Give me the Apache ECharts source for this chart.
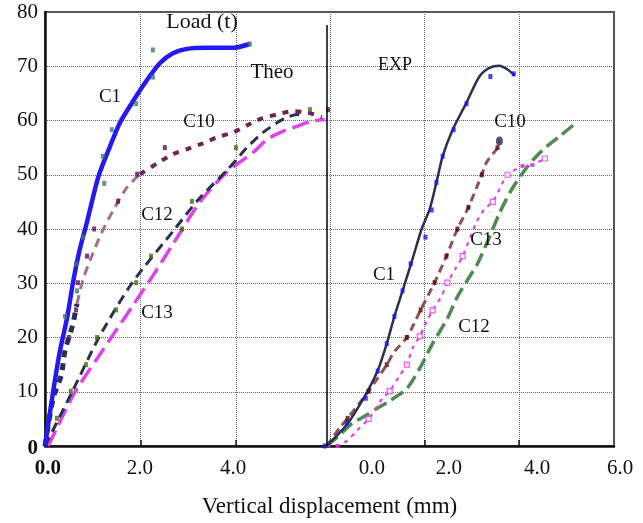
<!DOCTYPE html>
<html><head><meta charset="utf-8">
<script src="https://cdn.jsdelivr.net/npm/echarts@6/dist/echarts.min.js"></script>
<style>html,body{margin:0;padding:0;background:#fff}#c{width:643px;height:523px}</style>
</head><body><div id="c"></div>
<script>
// ---- layout constants (axis units) ----
const OFFSET = 5.9;      // right (EXP) panel origin on the shared displacement axis
const X_MAX = 11.92;

// ---- tick labels ----
const yTickValues = [0, 10, 20, 30, 40, 50, 60, 70, 80];
const xLabelsLeft = ['0.0', '2.0', '4.0'];
const xLabelLeftAt = [0.06, 1.99, 3.94];
const xLabelsRight = ['0.0', '2.0', '4.0', '6.0'];
const xLabelRightAt = [0.95, 2.56, 4.41, 6.15];
const gridLeftAt = [2, 4];
const gridRightAt = [0.07, 2.05, 4.03];

// ---- Theo (left panel) ----
const theoC1_x = [0, 0.17, 0.31, 0.46, 0.59, 0.73, 0.88, 1.12, 1.36, 1.57, 1.84, 2.14, 2.41, 2.68, 2.97, 3.39, 3.94, 4.29];
const theoC1_y = [0, 10, 17.4, 23.5, 30.3, 36.3, 41.3, 49.7, 55.2, 59.6, 63.5, 67.5, 70.6, 72.4, 73.2, 73.4, 73.4, 74.1];
const theoC1m_x = [0.42, 0.67, 0.65, 0.80, 1.24, 1.21, 1.40, 1.91, 2.26, 2.26, 4.29];
const theoC1m_y = [23.9, 28.6, 33.6, 38.5, 48.4, 53.4, 58.3, 63.1, 68, 73, 74.1];

const theoC10a_x = [0, 0.17, 0.34, 0.42, 0.57, 0.67];
const theoC10a_y = [0, 8.8, 13, 17.6, 22, 26.2];
const theoC10b_x = [0.67, 0.80, 0.98, 1.19, 1.42, 1.72, 1.99];
const theoC10b_y = [26.2, 30.8, 35, 39.4, 43.3, 47.7, 50.1];
const theoC10c_x = [1.99, 2.35, 2.68, 2.97, 3.31, 3.60, 3.94, 4.23, 4.54, 4.86, 5.17, 5.49, 5.80];
const theoC10c_y = [50.1, 52.1, 53.8, 54.7, 55.8, 56.9, 57.8, 59.1, 60.4, 61.1, 61.7, 61.5, 60.6];
const theoC10m_x = [0.50, 0.65, 0.69, 0.88, 1.03, 1.53, 1.93, 2.51, 5.93];
const theoC10m_y = [20, 25.1, 30.1, 35, 40, 45.1, 50.1, 55, 62];

const theoC12_x = [0, 0.57, 1.13, 1.82, 2.72, 3.22, 3.83, 4.23, 4.57, 4.98, 5.28, 5.45];
const theoC12_y = [0, 10, 20, 30, 40, 45.5, 51, 55, 57.8, 60.2, 61.1, 60.7];
const theoC12m_x = [0.25, 0.54, 0.86, 1.09, 1.49, 1.91, 2.22, 2.87, 3.08, 4.0, 5.55];
const theoC12m_y = [5.1, 10.1, 15, 20, 25.1, 30.1, 35, 40, 45.1, 55, 62];

const theoC13_x = [0.06, 0.25, 0.59, 1.09, 1.42, 1.84, 2.26, 2.68, 3.25, 3.81, 4.36, 4.65, 4.98, 5.28, 5.55, 5.86];
const theoC13_y = [0, 3.3, 9.4, 16.1, 20.4, 25.9, 31.4, 37.2, 45, 50.5, 54.1, 56.5, 58, 58.9, 59.8, 60.2];

// ---- EXP (right panel, local displacement) ----
const expC1_x = [0, 0.42, 0.80, 1.07, 1.26, 1.42, 1.59, 1.78, 1.99, 2.16, 2.30, 2.43, 2.64, 2.93, 3.20, 3.41, 3.62, 3.79, 3.94];
const expC1_y = [0, 3.9, 9.2, 13.9, 18.9, 23.9, 28.6, 33.9, 40, 43.7, 48.6, 53.4, 58.3, 63.3, 68.1, 69.7, 70.1, 69.4, 68.3];
const expC1m_x = [-0.04, 0.42, 0.82, 1.07, 1.26, 1.42, 1.59, 1.76, 2.07, 2.20, 2.30, 2.43, 2.66, 2.93, 3.43, 3.92];
const expC1m_y = [0, 4.2, 8.8, 13.8, 18.9, 23.9, 28.6, 33.6, 38.5, 43.5, 48.6, 53.4, 58.3, 63.1, 68.1, 68.6];

const expC10_x = [0, 0.27, 0.44, 0.88, 1.26, 1.42, 1.68, 1.97, 2.26, 2.51, 2.74, 2.97, 3.25, 3.35, 3.58, 3.62];
const expC10_y = [0, 3.3, 5.1, 10.1, 15, 17.4, 20, 25.1, 30.1, 35, 40, 44, 50, 52.3, 55, 56.2];
const expC10m_x = [0.44, 0.88, 1.26, 1.68, 1.97, 2.26, 2.51, 2.74, 2.97, 3.25, 3.58];
const expC10m_y = [5.1, 10.1, 15, 20, 25.1, 30.1, 35, 40, 44, 50, 55];
const expC10end_x = [3.62];
const expC10end_y = [56.2];

const expC13_x = [0, 0.23, 0.42, 0.63, 0.88, 1.17, 1.32, 1.53, 1.68, 1.80, 1.95, 2.09, 2.22, 2.41, 2.53, 2.72, 2.85, 3.14, 3.31, 3.48, 3.69, 3.79, 3.90, 4.10, 4.31, 4.57];
const expC13_y = [0, 0.2, 0.9, 2.8, 5, 8.8, 10.1, 13, 15, 18, 20.2, 22.9, 25, 27.7, 30.1, 33, 35, 41.3, 43.7, 45, 48.6, 50, 50.7, 51.6, 51.8, 53];
const expC13h_x = [0.88, 1.32, 1.68, 1.95, 2.22, 2.53, 2.85, 3.48, 3.79, 4.57];
const expC13h_y = [5, 10.1, 15, 20.2, 25, 30.1, 35, 45, 50, 53];
const expC13f_x = [0.23, 4.10, 4.31];
const expC13f_y = [0, 51.6, 51.8];

const expC12_x = [0, 0.27, 0.54, 0.84, 1.07, 1.32, 1.68, 1.95, 2.22, 2.53, 2.72, 2.93, 3.16, 3.40, 3.62, 3.85, 4.08, 4.35, 4.61, 4.88, 5.19];
const expC12_y = [0, 2, 4.2, 5.7, 7, 8.3, 10.6, 14.3, 18.9, 23.5, 27.2, 30.3, 33.6, 38.3, 42.9, 46.9, 50.0, 53.0, 55.2, 57.1, 59.3];

// ---- build ----
const pts = (xs, ys, off) => xs.map((x, i) => [x + (off || 0), ys[i]]);
const FONT = '"Liberation Serif", "Times New Roman", serif';

function line(name, xs, ys, off, color, width, type, smooth) {
  return {
    name, type: 'line', data: pts(xs, ys, off), showSymbol: false, symbol: 'none',
    smooth: smooth === undefined ? 0.25 : smooth,
    lineStyle: { color, width, type, cap: 'butt' }, z: 2, silent: true
  };
}
function marks(name, xs, ys, off, color, size, hollow) {
  return {
    name, type: 'scatter', data: pts(xs, ys, off), symbol: 'rect', symbolSize: size,
    itemStyle: hollow ? { color: '#fff', borderColor: color, borderWidth: 1.2 } : { color },
    z: 4, silent: true
  };
}

const labelItems = xLabelsLeft.map((t, i) => ({ v: xLabelLeftAt[i], t, bold: i === 0 }))
  .concat(xLabelsRight.map((t, i) => ({ v: xLabelRightAt[i] + OFFSET, t, bold: false })));

const series = [
  line('C13 Theo', theoC13_x, theoC13_y, 0, '#e040ee', 3.5, [17, 7]),
  line('C12 Theo', theoC12_x, theoC12_y, 0, '#26324f', 3, [10, 6]),
  line('C10 Theo a', theoC10a_x, theoC10a_y, 0, '#26304f', 5, [7, 6]),
  line('C10 Theo b', theoC10b_x, theoC10b_y, 0, '#a0708c', 3, [9, 6]),
  line('C10 Theo c', theoC10c_x, theoC10c_y, 0, '#6b2656', 4, [6, 7]),
  line('C1 Theo', theoC1_x, theoC1_y, 0, '#2418f5', 4.5, 'solid'),
  marks('C1 Theo pts', theoC1m_x, theoC1m_y, 0, '#3e7a76', [4, 5]),
  marks('C10 Theo pts', theoC10m_x, theoC10m_y, 0, '#5c0b5e', [4, 5]),
  marks('C12 Theo pts', theoC12m_x, theoC12m_y, 0, '#3f6e12', [4, 5]),

  line('C12 EXP', expC12_x, expC12_y, OFFSET, '#4e8a52', 3.5, [14, 6]),
  line('C13 EXP', expC13_x, expC13_y, OFFSET, '#e035ec', 2, [4, 5]),
  line('C10 EXP', expC10_x, expC10_y, OFFSET, '#8c5058', 3, [8, 5]),
  line('C1 EXP', expC1_x, expC1_y, OFFSET, '#283050', 2.5, 'solid'),
  marks('C1 EXP pts', expC1m_x, expC1m_y, OFFSET, '#1a14f5', [4, 5]),
  marks('C10 EXP pts', expC10m_x, expC10m_y, OFFSET, '#5a0808', [4, 5]),
  marks('C13 EXP pts', expC13h_x, expC13h_y, OFFSET, '#e035ec', [5, 5], true),
  marks('C13 EXP pts2', expC13f_x, expC13f_y, OFFSET, '#e035ec', [4, 4]),
  {
    name: 'C10 EXP end', type: 'scatter', data: pts(expC10end_x, expC10end_y, OFFSET),
    symbol: 'circle', symbolSize: [7, 9], itemStyle: { color: '#26304f' }, z: 5, silent: true
  },
  {
    name: 'divider', type: 'line', data: [], silent: true,
    markLine: {
      silent: true, symbol: 'none', label: { show: false },
      lineStyle: { color: '#000', width: 1.5, type: 'solid' },
      data: [[{ coord: [OFFSET, 0] }, { coord: [OFFSET, 77.6] }]]
    }
  }
];

const txt = (text, x, y, size) => ({
  type: 'text', x, y, silent: true, z: 10,
  style: { text, font: size + 'px ' + FONT, fill: '#111', align: 'center', verticalAlign: 'middle' }
});

const option = {
  animation: false,
  backgroundColor: '#fff',
  grid: [
    { left: 45, right: 29, top: 12, bottom: 75, show: true, borderColor: '#555', borderWidth: 2 },
    { left: 45, right: 0, top: 12, bottom: 75, show: false }
  ],
  xAxis: [
    {
      type: 'value', gridIndex: 0, min: 0, max: X_MAX,
      axisLine: { show: true, onZero: false, lineStyle: { color: '#111', width: 2.5 } },
      axisTick: {
        show: true, inside: true, length: 6, lineStyle: { color: '#111', width: 1.5 },
        customValues: gridLeftAt.concat(gridRightAt.map(v => v + OFFSET))
      },
      axisLabel: { show: false },
      splitLine: { show: true, lineStyle: { type: 'dotted', color: '#666', width: 1 } },
      name: 'Vertical displacement (mm)', nameLocation: 'middle', nameGap: 49,
      nameTextStyle: { fontFamily: FONT, fontSize: 23, color: '#111' }
    },
    {
      type: 'value', gridIndex: 1, min: 0, max: 598 / 47.73,
      axisLine: { show: false }, axisTick: { show: false }, splitLine: { show: false },
      axisLabel: {
        show: true, margin: 10,
        customValues: labelItems.map(d => d.v),
        fontFamily: FONT, fontSize: 21, color: '#111',
        formatter: function (v) {
          let best = labelItems[0];
          labelItems.forEach(d => { if (Math.abs(d.v - v) < Math.abs(best.v - v)) best = d; });
          return best.bold ? '{b|' + best.t + '}' : best.t;
        },
        rich: { b: { fontFamily: FONT, fontSize: 21, fontWeight: 'bold', color: '#111' } }
      }
    }
  ],
  yAxis: [
    {
      type: 'value', gridIndex: 0, min: yTickValues[0], max: yTickValues[yTickValues.length - 1], interval: 10,
      axisLine: { show: true, lineStyle: { color: '#111', width: 2.5 } },
      axisTick: { show: false },
      axisLabel: {
        fontFamily: FONT, fontSize: 21, color: '#111', margin: 7,
        formatter: v => v === 0 ? '{b|0}' : String(v),
        rich: { b: { fontFamily: FONT, fontSize: 21, fontWeight: 'bold', color: '#111', padding: [6, 0, 0, 0] } }
      },
      splitLine: { show: true, lineStyle: { type: 'dotted', color: '#666', width: 1 } }
    },
    { type: 'value', gridIndex: 1, show: false, min: 0, max: 1 }
  ],
  series,
  graphic: [
    txt('Load (t)', 202, 22, 22),
    txt('Theo', 272, 72, 21),
    txt('C1', 110, 97, 19),
    txt('C10', 199, 122, 19),
    txt('C12', 157, 215, 19),
    txt('C13', 157, 313, 19),
    txt('EXP', 395, 65, 18),
    txt('C10', 510, 122, 19),
    txt('C13', 486, 240, 19),
    txt('C12', 474, 327, 19),
    txt('C1', 384, 275, 19)
  ]
};

const chart = echarts.init(document.getElementById('c'), null, { renderer: 'canvas' });
chart.setOption(option);
</script>
</body></html>
